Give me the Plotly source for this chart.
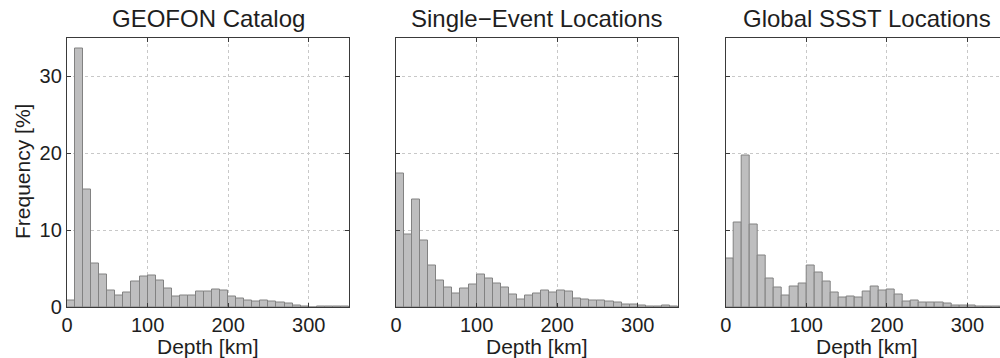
import plotly.graph_objects as go

# bin left edges (km), 10 km bins
bin_edges = [0, 10, 20, 30, 40, 50, 60, 70, 80, 90, 100, 110, 120, 130, 140, 150, 160, 170,
             180, 190, 200, 210, 220, 230, 240, 250, 260, 270, 280, 290, 300, 310, 320, 330, 340]
bin_width = 10

geofon = [0.8, 33.6, 15.3, 5.7, 4.25, 2.2, 1.45, 1.85, 3.3, 3.95, 4.05, 3.4, 2.45, 1.35, 1.45,
          1.45, 2.0, 2.0, 2.3, 2.1, 1.3, 1.15, 0.85, 0.75, 0.85, 0.65, 0.6, 0.45, 0.25, 0.05,
          0.0, 0.05, 0.05, 0.05, 0.05]
single = [17.4, 9.4, 14.0, 8.6, 5.4, 3.4, 2.55, 1.8, 2.45, 2.95, 4.25, 3.65, 3.0, 2.5, 1.6,
          1.0, 1.55, 1.8, 2.15, 1.9, 2.15, 2.0, 1.15, 0.95, 0.9, 0.9, 0.75, 0.55, 0.35, 0.3,
          0.2, 0.1, 0.05, 0.15, 0.05]
ssst = [6.35, 11.0, 19.7, 10.7, 6.7, 3.7, 2.5, 1.5, 2.65, 3.1, 5.4, 4.5, 3.35, 1.9, 1.25,
        1.4, 1.25, 2.05, 2.6, 2.1, 2.25, 1.65, 0.75, 0.85, 0.6, 0.55, 0.55, 0.4, 0.15, 0.15,
        0.15, 0.05, 0.05, 0.05, 0.05]

titles = ["GEOFON Catalog", "Single\u2212Event Locations", "Global SSST Locations"]
series = [geofon, single, ssst]
x_ticks = [0, 100, 200, 300]
y_ticks = [0, 10, 20, 30]

W, H = 1000, 358
px_left = [67, 396, 725.7]
panel_w = 282
top_px, bot_px = 37.5, 307
km_per_px = 350 / panel_w

FONT = "Liberation Sans, Arial, Helvetica, sans-serif"
frame_col = "#3a3a3a"
txt_col = "#1e1e1e"

fig = go.Figure()
centers = [e + bin_width / 2 for e in bin_edges]

for i, (vals, title) in enumerate(zip(series, titles)):
    xa = "x" if i == 0 else f"x{i+1}"
    ya = "y" if i == 0 else f"y{i+1}"
    fig.add_trace(go.Bar(
        x=centers, y=vals, width=bin_width, xaxis=xa, yaxis=ya,
        marker=dict(color="#bebebf", line=dict(color="#828282", width=1)),
        showlegend=False, hoverinfo="skip"))

    x0 = px_left[i] / W
    x1 = min((px_left[i] + panel_w) / W, 1.0)
    xmax = (x1 * W - px_left[i]) * km_per_px
    axkw = dict(
        showline=True, linecolor=frame_col, linewidth=1.3,
        ticks="inside", ticklen=4, tickcolor=frame_col, tickwidth=1,
        showgrid=True, gridcolor="#c8c8c8", griddash="3px,3px", gridwidth=1,
        zeroline=False, automargin=False,
        tickfont=dict(family=FONT, size=20, color=txt_col),
    )
    xname = "xaxis" if i == 0 else f"xaxis{i+1}"
    yname = "yaxis" if i == 0 else f"yaxis{i+1}"
    fig.update_layout({
        xname: dict(domain=[x0, x1], range=[0, xmax], anchor=ya, tickvals=x_ticks,
                    mirror="ticks", **axkw),
        yname: dict(domain=[1 - bot_px / H, 1 - top_px / H], range=[0, 35], anchor=xa,
                    tickvals=y_ticks, showticklabels=(i == 0),
                    mirror=("ticks" if i < 2 else False), **axkw),
    })
    cx = (px_left[i] + panel_w / 2) / W
    fig.add_annotation(text=title, x=cx, y=1 - 18 / H, xref="paper", yref="paper",
                       showarrow=False, xanchor="center", yanchor="middle",
                       font=dict(family=FONT, size=24, color=txt_col))
    fig.add_annotation(text="Depth [km]", x=cx, y=1 - 346 / H, xref="paper", yref="paper",
                       showarrow=False, xanchor="center", yanchor="middle",
                       font=dict(family=FONT, size=21, color=txt_col))

fig.add_annotation(text="Frequency [%]", x=22 / W, y=1 - 172 / H, xref="paper", yref="paper",
                   showarrow=False, textangle=-90, xanchor="center", yanchor="middle",
                   font=dict(family=FONT, size=21, color=txt_col))

fig.update_layout(width=W, height=H, margin=dict(l=0, r=0, t=0, b=0),
                  paper_bgcolor="white", plot_bgcolor="white", bargap=0)

fig.write_html("out.html")
